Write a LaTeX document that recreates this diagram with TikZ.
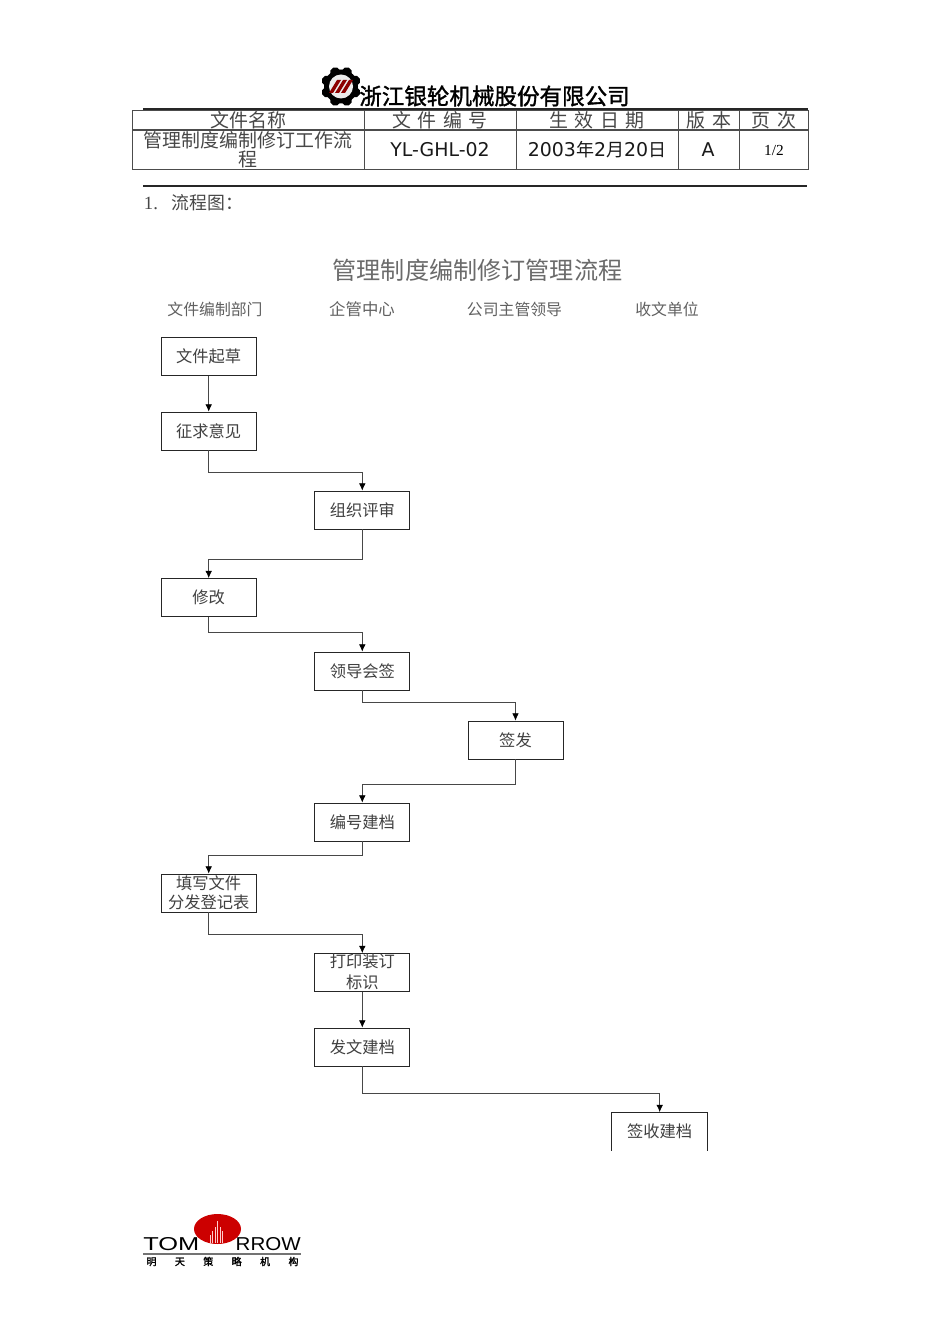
\documentclass[tikz,border=0pt]{standalone}
\usepackage{fontspec}
\setmainfont{Noto Sans CJK SC}
\newfontfamily\cjkbold[FakeBold=1.5]{Noto Sans CJK SC}
\newfontfamily\dv{DejaVu Sans}
\newfontfamily\lsf{Liberation Serif}
\newfontfamily\lsans{Liberation Sans}
\usetikzlibrary{arrows.meta}
\newcommand{\fsz}[1]{\fontsize{#1}{#1}\selectfont}
\newcommand{\bt}[2][1.2pt]{\raisebox{#1}{#2}}
\tikzset{
  px/.style={x=0.75pt,y=-0.75pt},
  flowbox/.style={draw=black!85,line width=0.6pt,minimum width=71.2pt,minimum height=28.5pt,inner sep=0pt,align=center,font=\fsz{12.2},text=black!75},
  openbox/.style={flowbox,draw=none},
  conn/.style={draw=black!72,line width=0.55pt,-{Latex[length=5.5pt,width=5pt,black]}},
  gridline/.style={draw=black!70,line width=0.7pt},
  heavyline/.style={draw=black!85,line width=1pt},
  celltxt/.style={inner sep=0pt,font=\fsz{14.2},text=black!72},
  dtxt/.style={inner sep=0pt,font=\dv\fsz{14.2},text=black!90},
  headtxt/.style={inner sep=0pt,font=\fsz{11.9},text=black!62}
}
\begin{document}
\begin{tikzpicture}[px]
\useasboundingbox (0,0) rectangle (950,1344);
\fill[white] (0,0) rectangle (950,1344);

% company header
\node[inner sep=0pt,font=\cjkbold\fsz{16.9}] (company) at (494.5,96) {浙江银轮机械股份有限公司};
% gear logo
\foreach \a in {0,45,...,315}{\draw[black,line width=8pt,line cap=round,rotate around={\a+22.5:(341,86.5)}] (341,86.5) -- (341,71.5);}
\fill[black] (341,86.5) circle (17);
\fill[white!85!gray] (341,86.5) circle (12);
\fill[red!55!black] (329,93) -- (337,80) -- (341,80) -- (333,93) -- cycle
                    (335,93) -- (343,80) -- (347,80) -- (339,93) -- cycle
                    (341,93) -- (349,80) -- (353,80) -- (345,93) -- cycle;

% table
\draw[heavyline] (143,109) -- (808,109);
\draw[gridline] (132,110) rectangle (808,169);
\draw[gridline,line width=1pt] (132,130) -- (808,130);
\foreach \x in {364,516,678,739}{\draw[gridline] (\x,110) -- (\x,169);}
\node[celltxt] (h1) at (248.5,120) {文件名称};
\node[celltxt] (h2) at (440,120) {文\,\,件\,\,编\,\,号};
\node[celltxt] (h3) at (597,120) {生\,\,效\,\,日\,\,期};
\node[celltxt] (h4) at (709,120) {版\,\,本};
\node[celltxt] (h5) at (774,120) {页\,\,次};
\node[celltxt] (c1a) at (248,140) {管理制度编制修订工作流};
\node[celltxt] (c1b) at (248,159) {程};
\node[dtxt] (c2) at (440,150) {YL-GHL-02};
\node[dtxt] (c3) at (597,150) {2003{\rmfamily\fsz{13.5}年}2{\rmfamily\fsz{13.5}月}20{\rmfamily\fsz{13.5}日}};
\node[dtxt] (c4) at (708,150) {A};
\node[inner sep=0pt,font=\lsf\fsz{11.5}] (c5) at (774,151) {1/2};
\draw[heavyline] (143,186) -- (807,186);
\node[inner sep=0pt,anchor=west,font=\fsz{13.4},text=black!72] (sec) at (139,203) {{\lsf\fsz{14} 1.}\hspace{10.5pt}流程图：};

% chart title
\node[inner sep=0pt,font=\fsz{18.1},text=black!58] (title) at (477.5,270.5) {管理制度编制修订管理流程};
\node[headtxt] (col1) at (215,309) {文件编制部门};
\node[headtxt,font=\fsz{12.3}] (col2) at (362,309) {企管中心};
\node[headtxt] (col3) at (514.5,309) {公司主管领导};
\node[headtxt] (col4) at (667,309) {收文单位};

% boxes
\node[flowbox] (b1) at (208.7,356.5) {\bt{文件起草}};
\node[flowbox] (b2) at (208.7,431) {\bt{征求意见}};
\node[flowbox] (b3) at (362.3,510) {\bt{组织评审}};
\node[flowbox] (b4) at (208.7,597.5) {\bt{修改}};
\node[flowbox] (b5) at (362.3,671) {\bt{领导会签}};
\node[flowbox] (b6) at (515.5,740) {\bt{签发}};
\node[flowbox] (b7) at (362.3,822) {\bt{编号建档}};
\node[flowbox] (b8) at (208.7,893) {\bt[4.6pt]{填写文件}\\[-0.5pt]\bt[1.4pt]{分发登记表}};
\node[flowbox] (b9) at (362.3,972.5) {\bt[5pt]{打印装订}\\[-0.5pt]\bt[2.2pt]{标识}};
\node[flowbox] (b10) at (362.3,1047) {\bt{发文建档}};
\node[openbox] (b11) at (659.7,1131.5) {\bt{签收建档}};
\draw[draw=black!85,line width=0.6pt] (b11.south west) -- (b11.north west) -- (b11.north east) -- (b11.south east);

% connectors
\draw[conn] (b1) -- (b2);
\draw[conn] (b2.south) -- ++(0,22) -| (b3.north);
\draw[conn] (b3.south) -- ++(0,30) -| (b4.north);
\draw[conn] (b4.south) -- ++(0,15) -| (b5.north);
\draw[conn] (b5.south) -- ++(0,12) -| (b6.north);
\draw[conn] (b6.south) -- ++(0,25) -| (b7.north);
\draw[conn] (b7.south) -- ++(0,14) -| (b8.north);
\draw[conn] (b8.south) -- ++(0,22) -| (b9.north);
\draw[conn] (b9) -- (b10);
\draw[conn] (b10.south) -- ++(0,27) -| (b11.north);

% footer logo
\fill[red!80!black] (217.5,1229) ellipse (23.5 and 15);
\foreach \x/\h in {210/8,212.5/12,215/16,217.5/22,220/16,222.5/12}{\draw[white!80!red,line width=0.5pt] (\x,1243) -- (\x,1243-\h);}
\node[inner sep=0pt,anchor=west,font=\lsans\fsz{14}] (tom) at (143,1244) {\scalebox{1.36}[1]{TOM}};
\node[inner sep=0pt,anchor=east,font=\lsans\fsz{14}] (row) at (301,1244) {\scalebox{1.1}[1]{RROW}};
\draw[draw=black!55,line width=1pt] (143,1254) -- (301,1254);
\node[inner sep=0pt,font=\cjkbold\fsz{7.5}] (cn) at (222.5,1261.5) {明\hspace{13.8pt}天\hspace{13.8pt}策\hspace{13.8pt}略\hspace{13.8pt}机\hspace{13.8pt}构};
\end{tikzpicture}
\end{document}
